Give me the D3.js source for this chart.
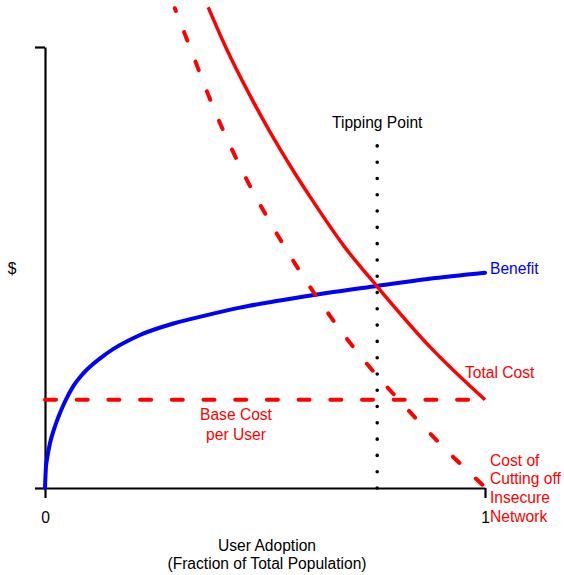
<!DOCTYPE html>
<html>
<head>
<meta charset="utf-8">
<script src="https://cdn.jsdelivr.net/npm/d3@7"></script>
<style>
  html, body { margin: 0; padding: 0; background: #fff; }
  svg { display: block; font-family: "Liberation Sans", Arial, sans-serif; }
</style>
</head>
<body>
<svg id="chart" width="564" height="575"></svg>
<script>
// ---- data (x = fraction of population, y = $ in relative units) ----
const benefitX = [0, 0.002, 0.005, 0.011, 0.020, 0.030, 0.045, 0.065, 0.087, 0.140, 0.216, 0.292, 0.368, 0.443, 0.534, 0.640, 0.754, 0.870, 1.0];
const benefitY = [0, 0.045, 0.068, 0.100, 0.132, 0.160, 0.195, 0.232, 0.260, 0.305, 0.347, 0.373, 0.392, 0.409, 0.425, 0.442, 0.458, 0.474, 0.488];

const totalCostX = [0.371, 0.413, 0.458, 0.511, 0.564, 0.606, 0.680, 0.754, 0.875, 1.0];
const totalCostY = [1.090, 0.995, 0.905, 0.808, 0.720, 0.655, 0.548, 0.458, 0.320, 0.200];

const cutoffCostX = [0.295, 0.332, 0.385, 0.445, 0.549, 0.631, 0.718, 0.815, 0.914, 1.0];
const cutoffCostY = [1.088, 0.993, 0.857, 0.726, 0.540, 0.414, 0.298, 0.188, 0.084, 0.002];

const baseCostX = [0, 1];
const baseCostY = [0.2, 0.2];

const tippingX = 0.755;
const tippingTop = 0.776;

const xTickValues = [0, 1];
const xTickLabels = ["0", "1"];
const yTickValues = [0, 1];

const labels = {
  yAxis: "$",
  xAxis: ["User Adoption", "(Fraction of Total Population)"],
  tipping: "Tipping Point",
  benefit: "Benefit",
  totalCost: "Total Cost",
  baseCost: ["Base Cost", "per User"],
  cutoff: ["Cost of", "Cutting off", "Insecure", "Network"]
};

// ---- drawing ----
const svg = d3.select("#chart");
const x = d3.scaleLinear().domain([0, 1]).range([45, 485]);
const y = d3.scaleLinear().domain([0, 1]).range([488, 47]);

const RED = "#ff0000", BLUE = "#0000ff";
const FS = "15.6px";

const zip = (xs, ys) => xs.map((v, i) => [v, ys[i]]);
const line = d3.line().x(d => x(d[0])).y(d => y(d[1])).curve(d3.curveMonotoneX);

// axes
const xAxis = svg.append("g").attr("transform", `translate(0,${y(0)})`)
  .call(d3.axisBottom(x).tickValues(xTickValues).tickSize(10).tickSizeOuter(0)
        .tickFormat((d, i) => xTickLabels[i]));
const yAxis = svg.append("g").attr("transform", `translate(${x(0)},0)`)
  .call(d3.axisLeft(y).tickValues(yTickValues).tickSize(10).tickSizeOuter(0).tickFormat(""));
[xAxis, yAxis].forEach(g => {
  g.select(".domain").attr("stroke", "#000").attr("stroke-width", 2.2);
  g.selectAll(".tick line").attr("stroke", "#000").attr("stroke-width", 2.2);
});
xAxis.selectAll(".tick text")
  .attr("fill", "#000").attr("font-size", FS)
  .attr("font-family", "'Liberation Sans', Arial, sans-serif")
  .attr("dy", null).attr("y", 35);

// benefit curve
svg.append("path").datum(zip(benefitX, benefitY))
  .attr("d", line).attr("fill", "none").attr("stroke", BLUE).attr("stroke-width", 4)
  .attr("stroke-linecap", "round");

// base cost dashed
svg.append("path").datum(zip(baseCostX, baseCostY))
  .attr("d", d3.line().x(d => x(d[0])).y(d => y(d[1])))
  .attr("fill", "none").attr("stroke", RED).attr("stroke-width", 4)
  .attr("stroke-dasharray", "11 20.7").attr("stroke-linecap", "round");

// cost of cutting off insecure network (dashed)
svg.append("path").datum(zip(cutoffCostX, cutoffCostY))
  .attr("d", line).attr("fill", "none").attr("stroke", RED).attr("stroke-width", 4)
  .attr("stroke-dasharray", "9 22.7").attr("stroke-linecap", "round")
  .attr("stroke-dashoffset", 6);

// total cost
svg.append("path").datum(zip(totalCostX, totalCostY))
  .attr("d", line).attr("fill", "none").attr("stroke", RED).attr("stroke-width", 3.5);

// tipping point dotted line (drawn bottom-up so a dot sits on the axis)
svg.append("path").datum([[tippingX, 0], [tippingX, tippingTop]])
  .attr("d", d3.line().x(d => x(d[0])).y(d => y(d[1])))
  .attr("fill", "none").attr("stroke", "#000").attr("stroke-width", 3.6)
  .attr("stroke-dasharray", "0 16.29").attr("stroke-linecap", "round");

// labels
function txt(s, px, py, anchor, color) {
  return svg.append("text").attr("x", px).attr("y", py).attr("text-anchor", anchor)
    .attr("fill", color).attr("font-size", FS).text(s);
}
txt(labels.yAxis, 12, 274, "middle", "#000");
txt(labels.xAxis[0], 267, 551, "middle", "#000");
txt(labels.xAxis[1], 267, 569, "middle", "#000");
txt(labels.tipping, x(tippingX), 127.5, "middle", "#000");
txt(labels.benefit, x(1) + 5, 274, "start", BLUE);
txt(labels.totalCost, 465, 378, "start", RED);
labels.baseCost.forEach((s, i) => txt(s, 236, 420 + i * 20, "middle", RED));
labels.cutoff.forEach((s, i) => txt(s, x(1) + 5, 465.5 + i * 18.8, "start", RED));
</script>
</body>
</html>
